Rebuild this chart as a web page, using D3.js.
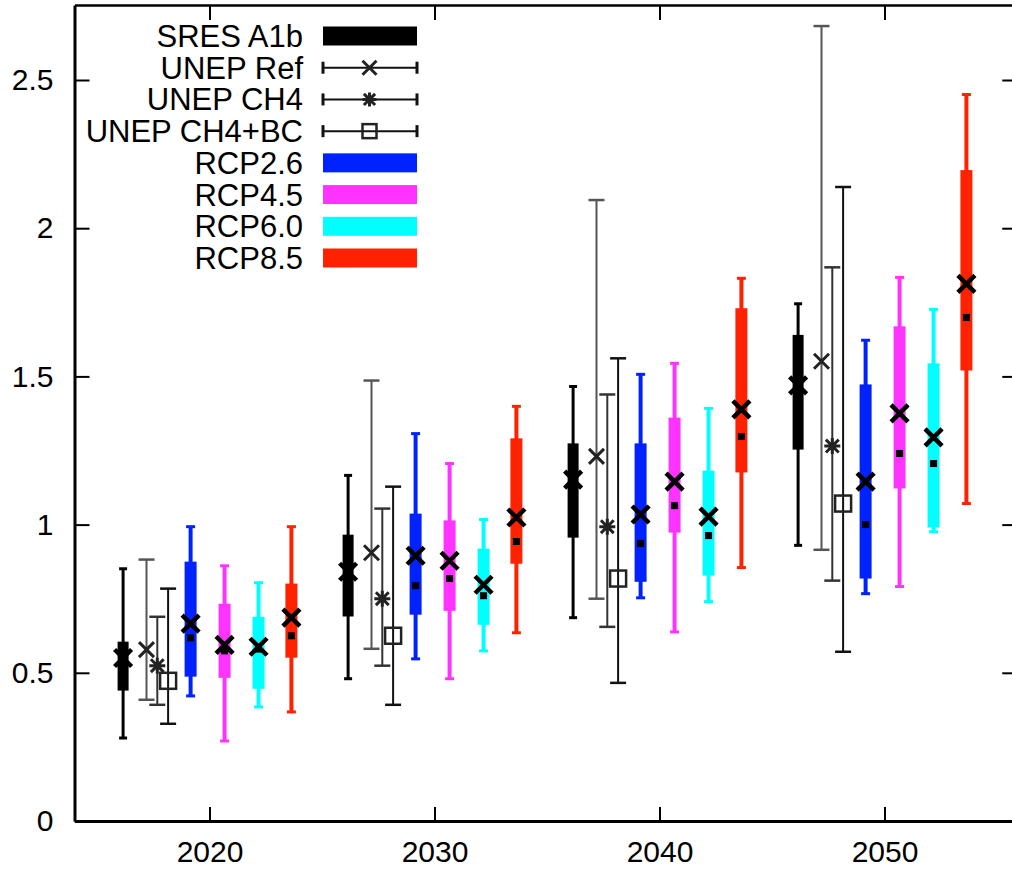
<!DOCTYPE html>
<html>
<head>
<meta charset="utf-8">
<script src="https://cdn.jsdelivr.net/npm/d3@7"></script>
<style>
  html, body { margin: 0; padding: 0; background: #fff; }
  svg { display: block; }
  text { font-family: "Liberation Sans", Arial, Helvetica, sans-serif; fill: #000; }
</style>
</head>
<body>
<svg id="chart" width="1012" height="869"></svg>
<script>
// Decades on the x axis
const years = [2020, 2030, 2040, 2050];
const yTicks = [0, 0.5, 1, 1.5, 2, 2.5];

// SRES A1b: range, inter-quartile box, mean
const sresMin  = [0.28, 0.48, 0.686, 0.93];
const sresQ1   = [0.44, 0.69, 0.956, 1.253];
const sresQ3   = [0.605, 0.966, 1.274, 1.64];
const sresMax  = [0.851, 1.166, 1.466, 1.745];
const sresMean = [0.55, 0.841, 1.152, 1.47];

// UNEP scenarios: low, high, central estimate
const unepRefLo  = [0.409, 0.581, 0.750, 0.915];
const unepRefHi  = [0.882, 1.486, 2.095, 2.682];
const unepRefVal = [0.578, 0.905, 1.230, 1.551];

const unepCh4Lo  = [0.392, 0.524, 0.655, 0.811];
const unepCh4Hi  = [0.689, 1.054, 1.439, 1.868];
const unepCh4Val = [0.524, 0.750, 0.993, 1.265];

const unepBcLo  = [0.328, 0.392, 0.466, 0.571];
const unepBcHi  = [0.784, 1.128, 1.561, 2.139];
const unepBcVal = [0.473, 0.625, 0.818, 1.071];

// RCP ensembles: min, q1, q3, max, mean, median
const rcp26Min = [0.422, 0.547, 0.753, 0.767];
const rcp26Q1  = [0.487, 0.696, 0.807, 0.818];
const rcp26Q3  = [0.875, 1.037, 1.274, 1.473];
const rcp26Max = [0.993, 1.307, 1.507, 1.622];
const rcp26Mean = [0.666, 0.895, 1.034, 1.145];
const rcp26Med  = [0.618, 0.794, 0.936, 1.000];

const rcp45Min = [0.270, 0.480, 0.638, 0.791];
const rcp45Q1  = [0.483, 0.709, 0.973, 1.122];
const rcp45Q3  = [0.733, 1.014, 1.361, 1.669];
const rcp45Max = [0.861, 1.206, 1.544, 1.834];
const rcp45Mean = [0.594, 0.878, 1.145, 1.375];
const rcp45Med  = [0.574, 0.818, 1.064, 1.240];

const rcp60Min = [0.385, 0.574, 0.740, 0.976];
const rcp60Q1  = [0.446, 0.662, 0.828, 0.990];
const rcp60Q3  = [0.689, 0.919, 1.182, 1.544];
const rcp60Max = [0.804, 1.017, 1.392, 1.726];
const rcp60Mean = [0.588, 0.797, 1.027, 1.294];
const rcp60Med  = [0.580, 0.760, 0.963, 1.206];

const rcp85Min = [0.368, 0.635, 0.855, 1.071];
const rcp85Q1  = [0.551, 0.868, 1.176, 1.520];
const rcp85Q3  = [0.801, 1.291, 1.730, 2.196];
const rcp85Max = [0.993, 1.399, 1.831, 2.451];
const rcp85Mean = [0.686, 1.024, 1.389, 1.812];
const rcp85Med  = [0.625, 0.943, 1.297, 1.699];

const legendLabels = ["SRES A1b", "UNEP Ref", "UNEP CH4", "UNEP CH4+BC",
                      "RCP2.6", "RCP4.5", "RCP6.0", "RCP8.5"];

// ---- layout ----
const svg = d3.select("#chart");
const x = d3.scaleLinear().domain([2014, 2055.9]).range([74.5, 1017.25]);
const y = d3.scaleLinear().domain([0, 2.753]).range([821, 821 - 2.753 * 296.4]);

const colors = { sres: "#000", rcp26: "#0022ff", rcp45: "#ff33ff", rcp60: "#00ffff", rcp85: "#ff2200" };
// horizontal shift (in years) of each scenario within a decade
const shift = { sres: -3.84, ref: -2.8, ch4: -2.32, bc: -1.84, rcp26: -0.84, rcp45: 0.67, rcp60: 2.18, rcp85: 3.64 };

const plot = svg.append("g");

// ---- axes (border box with inward ticks) ----
function styleAxis(g, lineW) {
  g.select(".domain").attr("stroke", "#000").attr("stroke-width", lineW);
  g.selectAll(".tick line").attr("stroke", "#000").attr("stroke-width", 2);
  g.selectAll(".tick text").attr("font-size", 30).attr("font-family", null).attr("fill", "#000");
}

svg.append("g").attr("transform", `translate(74.5,0)`)
  .call(d3.axisLeft(y).tickValues(yTicks).tickFormat(d3.format("")).tickSizeInner(-15).tickSizeOuter(0).tickPadding(21))
  .call(g => styleAxis(g, 3));

svg.append("g").attr("transform", `translate(0,821)`)
  .call(d3.axisBottom(x).tickValues(years).tickFormat(d3.format("d")).tickSizeInner(-14).tickSizeOuter(0).tickPadding(20))
  .call(g => styleAxis(g, 3));

svg.append("g").attr("transform", `translate(1017.25,0)`)
  .call(d3.axisRight(y).tickValues(yTicks).tickFormat("").tickSizeInner(-15).tickSizeOuter(0))
  .call(g => styleAxis(g, 3));

svg.append("g").attr("transform", `translate(0,${y(2.753)})`)
  .call(d3.axisTop(x).tickValues(years).tickFormat("").tickSizeInner(-15).tickSizeOuter(0))
  .call(g => styleAxis(g, 2.5));

// ---- marker shapes ----
function crossPath(cx, cy, s) {
  return `M${cx - s},${cy - s}L${cx + s},${cy + s}M${cx - s},${cy + s}L${cx + s},${cy - s}`;
}
function starPath(cx, cy, s) {
  return crossPath(cx, cy, s * 0.8) + `M${cx - s},${cy}L${cx + s},${cy}M${cx},${cy - s}L${cx},${cy + s}`;
}
function drawMarker(g, type, cx, cy, opts) {
  if (type === "x") {
    g.append("path").attr("d", crossPath(cx, cy, opts.size)).attr("stroke", opts.color)
      .attr("stroke-width", opts.width).attr("fill", "none");
  } else if (type === "star") {
    g.append("path").attr("d", starPath(cx, cy, opts.size)).attr("stroke", opts.color)
      .attr("stroke-width", opts.width).attr("fill", "none");
  } else if (type === "square") {
    g.append("rect").attr("x", cx - opts.size).attr("y", cy - opts.size)
      .attr("width", opts.size * 2).attr("height", opts.size * 2)
      .attr("stroke", opts.color).attr("stroke-width", opts.width).attr("fill", "none");
  }
}

// ---- ensemble boxes (SRES and RCPs) ----
function drawBoxSeries(key, mins, q1s, q3s, maxs, means, meds, st) {
  const g = plot.append("g").attr("class", "series-" + key);
  years.forEach((yr, i) => {
    const cx = x(yr + shift[key]);
    // whisker
    g.append("line").attr("x1", cx).attr("x2", cx).attr("y1", y(mins[i])).attr("y2", y(maxs[i]))
      .attr("stroke", st.color).attr("stroke-width", st.stem);
    [mins[i], maxs[i]].forEach(v => {
      g.append("line").attr("x1", cx - st.cap / 2).attr("x2", cx + st.cap / 2)
        .attr("y1", y(v)).attr("y2", y(v)).attr("stroke", st.color).attr("stroke-width", 3);
    });
    // box
    g.append("rect").attr("x", cx - st.box / 2).attr("width", st.box)
      .attr("y", y(q3s[i])).attr("height", y(q1s[i]) - y(q3s[i])).attr("fill", st.color);
    // median
    if (meds) {
      g.append("rect").attr("x", cx - 3.5).attr("y", y(meds[i]) - 3.5).attr("width", 7).attr("height", 7).attr("fill", "#000");
    }
    // mean
    drawMarker(g, "x", cx, y(means[i]), { size: 8.5, width: 4.5, color: "#000" });
  });
}

// ---- UNEP error bars ----
function drawErrSeries(key, los, his, vals, marker, st) {
  const g = plot.append("g").attr("class", "series-" + key);
  years.forEach((yr, i) => {
    const cx = x(yr + shift[key]);
    g.append("line").attr("x1", cx).attr("x2", cx).attr("y1", y(los[i])).attr("y2", y(his[i]))
      .attr("stroke", st.color).attr("stroke-width", 2);
    [los[i], his[i]].forEach(v => {
      g.append("line").attr("x1", cx - 8).attr("x2", cx + 8).attr("y1", y(v)).attr("y2", y(v))
        .attr("stroke", st.color).attr("stroke-width", 2.5);
    });
    drawMarker(g, marker, cx, y(vals[i]), { size: marker === "x" ? 7.5 : 8, width: marker === "square" ? 2.5 : 3, color: st.mark });
  });
}

drawBoxSeries("sres", sresMin, sresQ1, sresQ3, sresMax, sresMean, null, { color: colors.sres, stem: 3, cap: 8, box: 11 });
drawErrSeries("ref", unepRefLo, unepRefHi, unepRefVal, "x", { color: "#555", mark: "#222" });
drawErrSeries("ch4", unepCh4Lo, unepCh4Hi, unepCh4Val, "star", { color: "#333", mark: "#222" });
drawErrSeries("bc", unepBcLo, unepBcHi, unepBcVal, "square", { color: "#111", mark: "#222" });
drawBoxSeries("rcp26", rcp26Min, rcp26Q1, rcp26Q3, rcp26Max, rcp26Mean, rcp26Med, { color: colors.rcp26, stem: 4, cap: 9, box: 12 });
drawBoxSeries("rcp45", rcp45Min, rcp45Q1, rcp45Q3, rcp45Max, rcp45Mean, rcp45Med, { color: colors.rcp45, stem: 4, cap: 9, box: 12 });
drawBoxSeries("rcp60", rcp60Min, rcp60Q1, rcp60Q3, rcp60Max, rcp60Mean, rcp60Med, { color: colors.rcp60, stem: 4, cap: 9, box: 12 });
drawBoxSeries("rcp85", rcp85Min, rcp85Q1, rcp85Q3, rcp85Max, rcp85Mean, rcp85Med, { color: colors.rcp85, stem: 4, cap: 9, box: 12 });

// ---- legend ----
const legend = svg.append("g").attr("class", "legend");
const legendKinds = [
  { type: "box", color: colors.sres },
  { type: "err", marker: "x" },
  { type: "err", marker: "star" },
  { type: "err", marker: "square" },
  { type: "box", color: colors.rcp26 },
  { type: "box", color: colors.rcp45 },
  { type: "box", color: colors.rcp60 },
  { type: "box", color: colors.rcp85 }
];
const rowY = d3.scalePoint().domain(legendLabels).range([36, 258]);
const sx0 = 323, sx1 = 417;
legendLabels.forEach((lab, i) => {
  const cy = rowY(lab);
  legend.append("text").attr("x", 303).attr("y", cy + 11).attr("text-anchor", "end")
    .attr("font-size", 31).text(lab);
  const k = legendKinds[i];
  if (k.type === "box") {
    legend.append("rect").attr("x", sx0).attr("y", cy - 9.5).attr("width", sx1 - sx0).attr("height", 19).attr("fill", k.color);
  } else {
    legend.append("line").attr("x1", sx0).attr("x2", sx1).attr("y1", cy).attr("y2", cy).attr("stroke", "#111").attr("stroke-width", 2);
    [sx0, sx1].forEach(ex => legend.append("line").attr("x1", ex).attr("x2", ex).attr("y1", cy - 6).attr("y2", cy + 6)
      .attr("stroke", "#111").attr("stroke-width", 3));
    drawMarker(legend, k.marker, (sx0 + sx1) / 2 - 0.5, cy, { size: 7, width: k.marker === "square" ? 2.5 : 3, color: "#222" });
  }
});
</script>
</body>
</html>
